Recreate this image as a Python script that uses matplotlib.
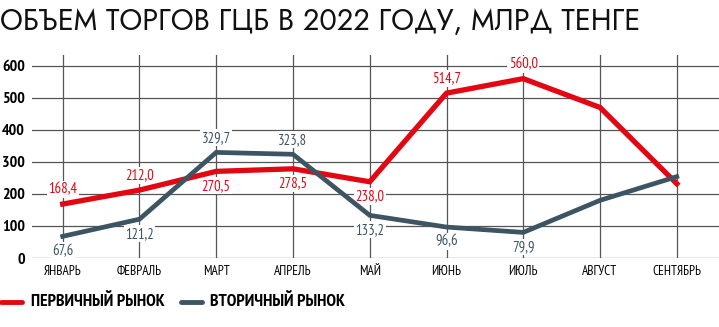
import matplotlib
matplotlib.use("Agg")
import matplotlib.pyplot as plt

months = ["ЯНВАРЬ", "ФЕВРАЛЬ", "МАРТ", "АПРЕЛЬ", "МАЙ", "ИЮНЬ", "ИЮЛЬ", "АВГУСТ", "СЕНТЯБРЬ"]
primary = [168.4, 212.0, 270.5, 278.5, 238.0, 514.7, 560.0, 470.0, 232.0]
secondary = [67.6, 121.2, 329.7, 323.8, 133.2, 96.6, 79.9, 180.0, 254.0]
primary_labels = ["168,4", "212,0", "270,5", "278,5", "238,0", "514,7", "560,0", None, None]
secondary_labels = ["67,6", "121,2", "329,7", "323,8", "133,2", "96,6", "79,9", None, None]
primary_pos = ["above", "above", "below", "below", "below", "above", "above", None, None]
secondary_pos = ["below", "below", "above", "above", "below", "below", "below", None, None]
yticks = [0, 100, 200, 300, 400, 500, 600]
title = "ОБЪЕМ ТОРГОВ ГЦБ В 2022 ГОДУ, МЛРД ТЕНГЕ"
legend_labels = ["ПЕРВИЧНЫЙ РЫНОК", "ВТОРИЧНЫЙ РЫНОК"]

FONT = ["PT Sans Narrow", "DejaVu Sans"]
TFONT = ["Jost", "DejaVu Sans"]

RED = "#e30613"
BLUE = "#3d5563"

fig = plt.figure(figsize=(7.19, 3.27), dpi=100)
ax = fig.add_axes([0.0445, 0.211, 0.9555, 0.621])
x = list(range(len(months)))
ax.plot(x, primary, color=RED, lw=3.8, solid_joinstyle="miter", zorder=3)
ax.plot(x, secondary, color=BLUE, lw=3.4, solid_joinstyle="miter", zorder=4)

def label(vals, labs, poss, color):
    for i, (v, lab, pos) in enumerate(zip(vals, labs, poss)):
        if lab is None:
            continue
        off = 10.5 if pos == "above" else -10.5
        ax.annotate(lab, (i, v), xytext=(0, off), textcoords="offset points",
                    ha="center", va="center", color=color, fontsize=10.5, family=FONT, zorder=2.5,
                    bbox=dict(boxstyle="square,pad=0.1", fc="white", ec="none"))

label(primary, primary_labels, primary_pos, RED)
label(secondary, secondary_labels, secondary_pos, BLUE)

ax.set_xlim(-0.4, 8.55)
ax.set_ylim(0, 634)
ax.set_xticks(x)
ax.set_xticklabels(months, family=FONT, fontsize=9.5)
ax.set_yticks(yticks)
ax.set_yticklabels([str(t) for t in yticks], family=FONT, fontsize=11.5, fontweight="bold")
ax.tick_params(axis="both", length=0)
ax.tick_params(axis="x", pad=5)
ax.tick_params(axis="y", pad=5)
ax.grid(True, color="#555555", lw=0.9, zorder=0)
for s in ax.spines.values():
    s.set_visible(False)

fig.text(0.0, 0.978, title, ha="left", va="top", fontsize=20.9, family=TFONT, color="#111111")

# legend
lax = fig.add_axes([0, 0, 1, 1], facecolor="none")
lax.set_xlim(0, 719); lax.set_ylim(327, 0); lax.axis("off")
lax.plot([1, 22], [302, 302], color=RED, lw=3.5, solid_capstyle="round")
lax.text(31, 302, legend_labels[0], va="center", ha="left", fontsize=12.6, fontweight="bold", family=FONT)
lax.plot([181, 202], [302, 302], color=BLUE, lw=3.5, solid_capstyle="round")
lax.text(210, 302, legend_labels[1], va="center", ha="left", fontsize=12.6, fontweight="bold", family=FONT)

fig.savefig("out.png", dpi=100)
